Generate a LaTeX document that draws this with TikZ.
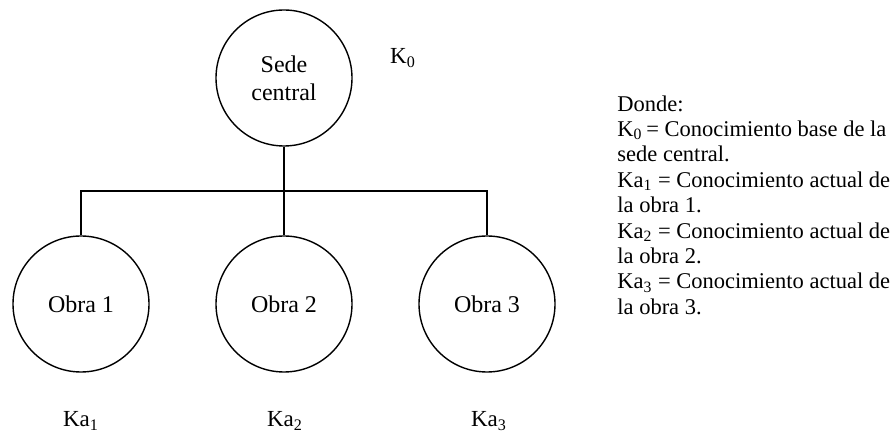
\documentclass[tikz,border=0pt]{standalone}
\usepackage{fontspec}
\setmainfont{Liberation Serif}
\begin{document}
\begin{tikzpicture}[x=0.5pt,y=-0.5pt,
  every node/.style={font=\fontsize{11.5pt}{13.5pt}\selectfont},
  circ/.style={draw,circle,line width=0.7pt,minimum size=68pt,inner sep=0pt,align=center,
    font=\fontsize{12pt}{13.5pt}\selectfont},
  conn/.style={line width=0.7pt}]
\useasboundingbox (0,0) rectangle (894,432);
\node[circ] (sede) at (284,78) {Sede\\[0.5pt]central};
\node[circ] (obra1) at (81,304) {Obra 1};
\node[circ] (obra2) at (284,304) {Obra 2};
\node[circ] (obra3) at (487,304) {Obra 3};
\coordinate (j) at (284,191);
\draw[conn] (sede.south) -- (obra2.north);
\draw[conn] (obra1.north) |- (j) -| (obra3.north);
\node (k0) at (403,58) {K\textsubscript{0}};
\node (ka1) at (81,421) {Ka\textsubscript{1}};
\node (ka2) at (285,421) {Ka\textsubscript{2}};
\node (ka3) at (489,421) {Ka\textsubscript{3}};
\node[anchor=north west,inner sep=0pt,align=left,
  font=\fontsize{11.25pt}{12.7pt}\selectfont] (legend) at (617,95) {Donde:\\
K\textsubscript{0}\,= Conocimiento base de la\\
sede central.\\
Ka\textsubscript{1} = Conocimiento actual de\\
la obra 1.\\
Ka\textsubscript{2} = Conocimiento actual de\\
la obra 2.\\
Ka\textsubscript{3} = Conocimiento actual de\\
la obra 3.};
\end{tikzpicture}
\end{document}
